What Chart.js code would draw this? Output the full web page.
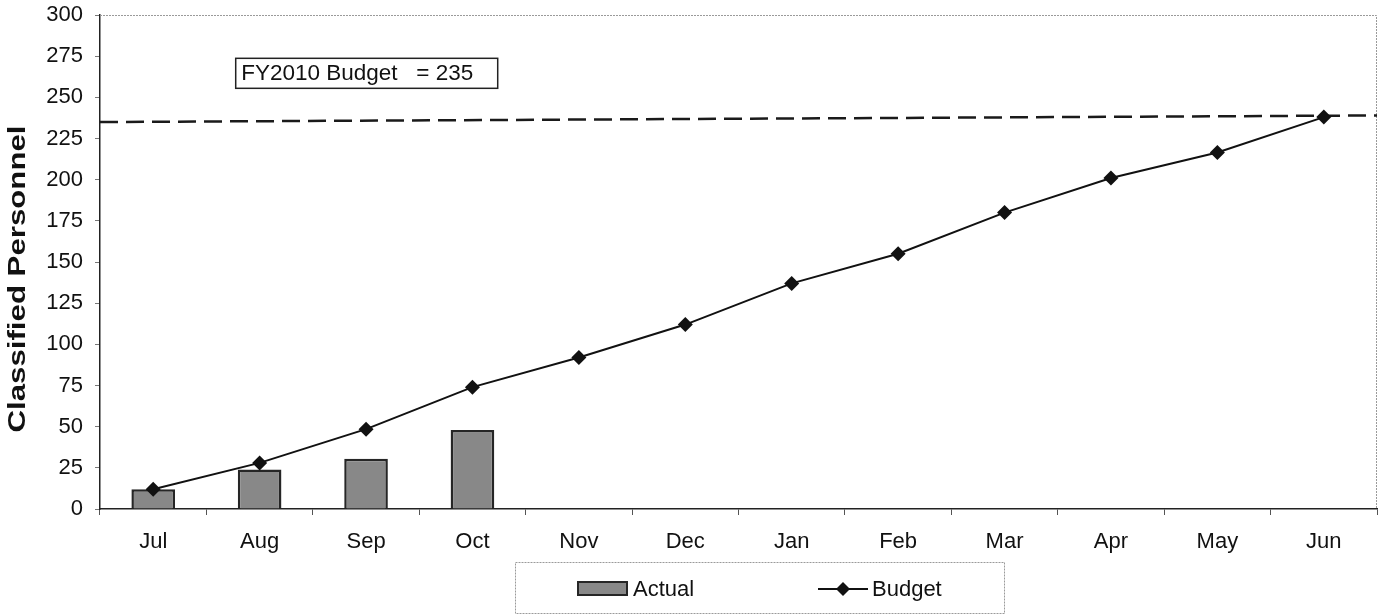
<!DOCTYPE html>
<html>
<head>
<meta charset="utf-8">
<script src="https://cdn.jsdelivr.net/npm/chart.js@4.4.1/dist/chart.umd.min.js"></script>
<style>
  html, body { margin: 0; padding: 0; background: #fff; }
  #wrap { width: 1379px; height: 614px; position: relative; }
</style>
</head>
<body>
<div id="wrap"><canvas id="c" width="1379" height="614"></canvas></div>
<script>
const categories = ['Jul','Aug','Sep','Oct','Nov','Dec','Jan','Feb','Mar','Apr','May','Jun'];
const actualValues = [12, 24, 30.5, 48, null, null, null, null, null, null, null, null];
const budgetValues = [12, 28, 48.5, 74, 92, 112, 137, 155, 180, 201, 216.5, 238];
const budgetTarget = 235;          // FY2010 budget line value (left end)
const budgetTargetRightEnd = 239;  // as seen at right end of the scanned line
const yTicks = [0,25,50,75,100,125,150,175,200,225,250,275,300];
const annotationText = 'FY2010 Budget   = 235';
const yTitle = 'Classified Personnel';

const FONT = '"Liberation Sans", Arial, sans-serif';

const framePlugin = {
  id: 'frame',
  beforeDatasetsDraw(chart) {
    const {ctx, chartArea: a, scales: {x, y}} = chart;
    ctx.save();
    // top and right light border
    ctx.strokeStyle = '#9a9a9a';
    ctx.lineWidth = 1;
    ctx.setLineDash([2, 1]);
    ctx.beginPath();
    ctx.moveTo(a.left, a.top + 0.5);
    ctx.lineTo(a.right - 0.5, a.top + 0.5);
    ctx.lineTo(a.right - 0.5, a.bottom);
    ctx.stroke();
    ctx.setLineDash([]);
    // dashed budget line
    ctx.strokeStyle = '#1a1a1a';
    ctx.lineWidth = 2.5;
    ctx.setLineDash([18, 8]);
    ctx.beginPath();
    ctx.moveTo(a.left, y.getPixelForValue(budgetTarget));
    ctx.lineTo(a.right, y.getPixelForValue(budgetTargetRightEnd));
    ctx.stroke();
    ctx.setLineDash([]);
    // annotation box
    ctx.font = '22.5px ' + FONT;
    const bx = x.getPixelForValue(0) + 82;
    const by = y.getPixelForValue(274);
    const bw = 262, bh = 30;
    ctx.fillStyle = '#fff';
    ctx.fillRect(bx, by, bw, bh);
    ctx.strokeStyle = '#222';
    ctx.lineWidth = 1.5;
    ctx.strokeRect(bx + 0.5, by + 0.5, bw, bh);
    ctx.fillStyle = '#111';
    ctx.textBaseline = 'middle';
    ctx.textAlign = 'left';
    ctx.fillText(annotationText, bx + 6, by + bh / 2 + 1);
    // y-axis title (stretched along its length like the scanned original)
    ctx.save();
    ctx.translate(18, (a.top + a.bottom) / 2 + 17);
    ctx.rotate(-Math.PI / 2);
    ctx.scale(1.3, 1);
    ctx.font = 'bold 24px ' + FONT;
    ctx.textAlign = 'center';
    ctx.textBaseline = 'middle';
    ctx.fillStyle = '#111';
    ctx.fillText(yTitle, 0, 0);
    ctx.restore();
    ctx.restore();
  },
  afterDraw(chart) {
    const {ctx} = chart;
    ctx.save();
    // legend box
    const lx = 515, ly = 562, lw = 489, lh = 51;
    ctx.strokeStyle = '#9a9a9a';
    ctx.lineWidth = 1;
    ctx.setLineDash([2, 1]);
    ctx.strokeRect(lx + 0.5, ly + 0.5, lw, lh);
    ctx.setLineDash([]);
    const cy = ly + 27;
    const ds0 = chart.data.datasets[0], ds1 = chart.data.datasets[1];
    // Actual swatch
    ctx.fillStyle = ds0.backgroundColor;
    ctx.fillRect(578, cy - 7, 49, 13);
    ctx.strokeStyle = ds0.borderColor;
    ctx.lineWidth = 2;
    ctx.strokeRect(578, cy - 7, 49, 13);
    ctx.font = '22px ' + FONT;
    ctx.fillStyle = '#111';
    ctx.textBaseline = 'middle';
    ctx.fillText(ds0.label, 633, cy + 1);
    // Budget symbol
    ctx.strokeStyle = ds1.borderColor;
    ctx.lineWidth = 2;
    ctx.beginPath();
    ctx.moveTo(818, cy); ctx.lineTo(868, cy); ctx.stroke();
    ctx.fillStyle = ds1.pointBackgroundColor;
    ctx.beginPath();
    ctx.moveTo(843, cy - 7); ctx.lineTo(850, cy); ctx.lineTo(843, cy + 7); ctx.lineTo(836, cy);
    ctx.closePath(); ctx.fill();
    ctx.fillStyle = '#111';
    ctx.fillText(ds1.label, 872, cy + 1);
    ctx.restore();
  }
};

new Chart(document.getElementById('c'), {
  type: 'bar',
  data: {
    labels: categories,
    datasets: [
      {
        type: 'bar',
        label: 'Actual',
        data: actualValues,
        backgroundColor: '#888888',
        borderColor: '#262626',
        borderWidth: 2.5,
        barPercentage: 0.41,
        categoryPercentage: 1.0,
        order: 2
      },
      {
        type: 'line',
        label: 'Budget',
        data: budgetValues,
        borderColor: '#111',
        borderWidth: 2,
        pointStyle: 'rectRot',
        pointRadius: 7.5,
        pointHoverRadius: 7.5,
        pointBackgroundColor: '#111',
        pointBorderColor: '#111',
        pointBorderWidth: 0,
        tension: 0,
        fill: false,
        clip: false,
        order: 1
      }
    ]
  },
  options: {
    responsive: false,
    animation: false,
    devicePixelRatio: 1,
    layout: { autoPadding: false, padding: { left: 0, right: 2, top: 15, bottom: 0 } },
    plugins: {
      legend: { display: false },
      tooltip: { enabled: false }
    },
    scales: {
      x: {
        offset: true,
        grid: { display: true, drawOnChartArea: false, drawTicks: true, tickLength: 6, color: '#555', offset: true },
        border: { display: true, color: '#222', width: 1.5 },
        ticks: { color: '#111', font: { family: FONT, size: 22 }, padding: 14, maxRotation: 0 },
        afterFit(s) { s.height = 105; s.paddingLeft = 0; s.paddingRight = 0; }
      },
      y: {
        min: 0, max: 300,
        afterBuildTicks(s) { s.ticks = yTicks.map(v => ({ value: v })); },
        grid: { display: true, drawOnChartArea: false, drawTicks: true, tickLength: 5, color: '#777' },
        border: { display: true, color: '#222', width: 1.5 },
        ticks: { color: '#111', font: { family: FONT, size: 22 }, padding: 12 },
        afterFit(s) { s.width = 100; s.paddingTop = 0; s.paddingBottom = 0; }
      }
    }
  },
  plugins: [framePlugin]
});
</script>
</body>
</html>
